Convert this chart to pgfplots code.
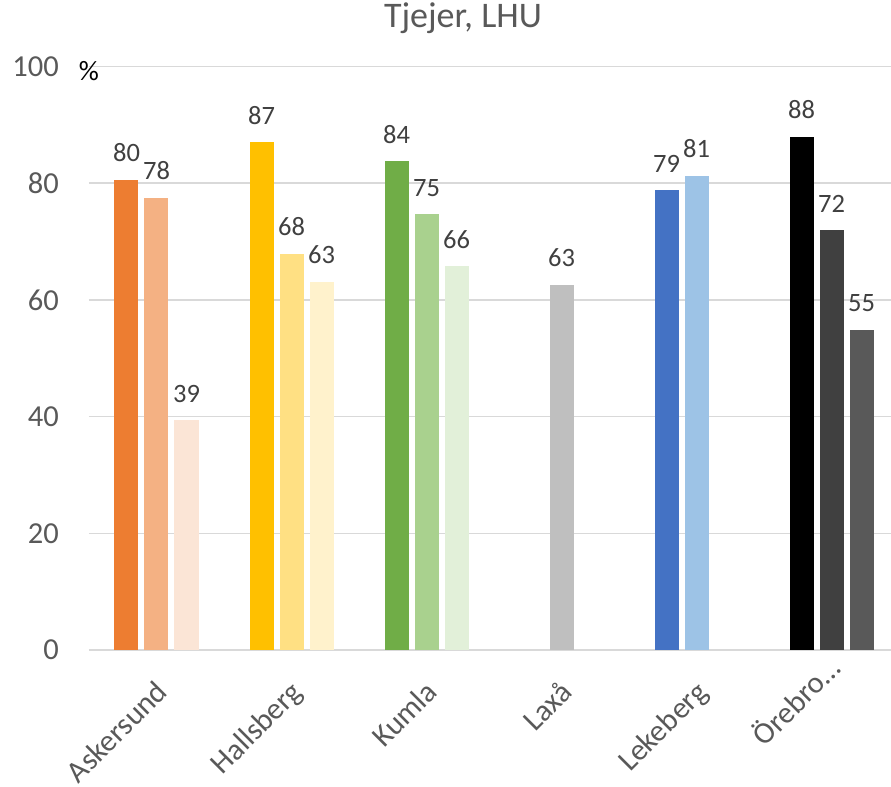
\documentclass[border=0pt]{standalone}
\usepackage{fontspec}
\setmainfont{Carlito}
\usepackage{pgfplots}
\pgfplotsset{compat=1.18}

\definecolor{gridc}{HTML}{D9D9D9}
\definecolor{txt}{HTML}{595959}
\definecolor{lbl}{HTML}{404040}
% bar colours, group by group
\definecolor{or1}{HTML}{ED7D31}
\definecolor{or2}{HTML}{F4B183}
\definecolor{or3}{HTML}{FBE5D6}
\definecolor{ye1}{HTML}{FFC000}
\definecolor{ye2}{HTML}{FFE083}
\definecolor{ye3}{HTML}{FFF2CC}
\definecolor{gr1}{HTML}{70AD47}
\definecolor{gr2}{HTML}{A9D18E}
\definecolor{gr3}{HTML}{E2F0D9}
\definecolor{gy1}{HTML}{BFBFBF}
\definecolor{bl1}{HTML}{4472C4}
\definecolor{bl2}{HTML}{9DC3E6}
\definecolor{bk1}{HTML}{000000}
\definecolor{bk2}{HTML}{404040}
\definecolor{bk3}{HTML}{595959}

\begin{document}
\begin{tikzpicture}
\useasboundingbox (-89bp,-137bp) rectangle (802bp,650bp);
\begin{axis}[
    at={(0,0)}, anchor=south west,
    scale only axis,
    width=810bp, height=583.5bp,
    ybar, bar width=24bp,
    xmin=-0.5, xmax=5.5,
    ymin=0, ymax=100,
    ytick={0,20,40,60,80,100},
    xtick={0,1,2,3,4,5},
    xticklabels={Askersund,Hallsberg,Kumla,Laxå,Lekeberg,
        {\raisebox{18bp}{Örebro…}\kern-15bp}},
    major tick length=0pt,
    axis x line=bottom, axis y line=left,
    x axis line style={draw=gridc, line width=1.5bp, -},
    y axis line style={draw=none},
    ymajorgrids,
    grid style={draw=gridc, line width=1.5bp},
    /pgf/number format/assume math mode=true,
    yticklabel style={font=\fontsize{30.5bp}{36bp}\selectfont, text=txt,
        inner sep=0pt, anchor=east, xshift=-30bp},
    xticklabel style={font=\fontsize{30.5bp}{36bp}\selectfont, text=txt,
        inner sep=0pt, xshift=11bp, yshift=-42bp, rotate=45, anchor=east,
        text height=0.75em, text depth=0.25em},
    title={Tjejer, LHU},
    title style={font=\fontsize{36bp}{42bp}\selectfont, text=txt,
        at={(axis description cs:0.4617,1.0574)}, anchor=base, inner sep=0pt},
    point meta=explicit symbolic,
    nodes near coords,
    nodes near coords style={font=\fontsize{26.5bp}{32bp}\selectfont, text=lbl,
        inner sep=0pt, anchor=south, yshift=17.5bp},
    clip=false,
]
% Askersund
\addplot[draw=none, fill=or1, bar shift=-30bp] coordinates {(0,80.6) [80]};
\addplot[draw=none, fill=or2, bar shift=0bp]   coordinates {(0,77.5) [78]};
\addplot[draw=none, fill=or3, bar shift=30bp]  coordinates {(0,39.4) [39]};
% Hallsberg
\addplot[draw=none, fill=ye1, bar shift=-30bp] coordinates {(1,87.0) [87]};
\addplot[draw=none, fill=ye2, bar shift=0bp]   coordinates {(1,67.9) [68]};
\addplot[draw=none, fill=ye3, bar shift=30bp]  coordinates {(1,63.1) [63]};
% Kumla
\addplot[draw=none, fill=gr1, bar shift=-30bp] coordinates {(2,83.8) [84]};
\addplot[draw=none, fill=gr2, bar shift=0bp]   coordinates {(2,74.7) [75]};
\addplot[draw=none, fill=gr3, bar shift=30bp]  coordinates {(2,65.8) [66]};
% Laxå
\addplot[draw=none, fill=gy1, bar shift=0bp]   coordinates {(3,62.6) [63]};
% Lekeberg
\addplot[draw=none, fill=bl1, bar shift=-30bp] coordinates {(4,78.8) [79]};
\addplot[draw=none, fill=bl2, bar shift=0bp]   coordinates {(4,81.3) [81]};
% Örebro
\addplot[draw=none, fill=bk1, bar shift=-30bp] coordinates {(5,88.0) [88]};
\addplot[draw=none, fill=bk2, bar shift=0bp]   coordinates {(5,71.9) [72]};
\addplot[draw=none, fill=bk3, bar shift=30bp]  coordinates {(5,54.9) [55]};

\node[font=\fontsize{28bp}{34bp}\selectfont, text=black, inner sep=0pt]
    at (axis description cs:0,0.992) {\%};
\end{axis}
\end{tikzpicture}
\end{document}
